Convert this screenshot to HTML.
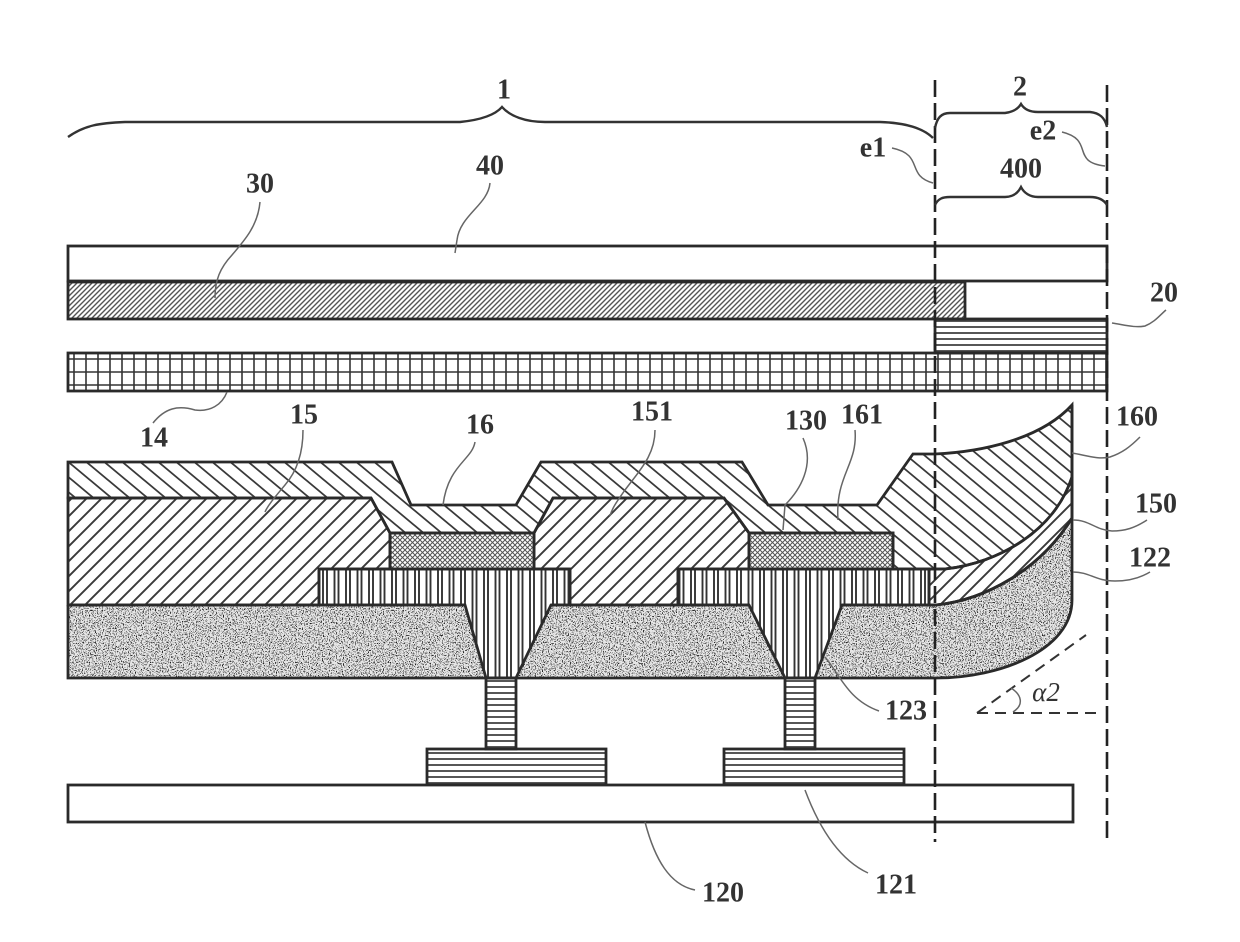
<!DOCTYPE html>
<html><head><meta charset="utf-8"><style>
html,body{margin:0;padding:0;background:#fff}
svg{display:block}
text{font-family:"Liberation Serif",serif;font-weight:bold;font-size:28px;fill:#333;text-anchor:middle;dominant-baseline:middle}
.o{stroke:#2a2a2a;stroke-width:2.8;stroke-linejoin:miter}
.l{fill:none;stroke:#666;stroke-width:1.5}
.b{fill:none;stroke:#333;stroke-width:2.4}
</style></head><body>
<svg xmlns="http://www.w3.org/2000/svg" width="1240" height="942" viewBox="0 0 1240 942">
<defs>
<pattern id="back" width="18" height="15" patternUnits="userSpaceOnUse"><path d="M-6,-5 L24,20 M-24,-5 L6,20 M12,-5 L42,20" stroke="#3a3a3a" stroke-width="1.8" fill="none"/></pattern>
<pattern id="fwd" width="15" height="15" patternUnits="userSpaceOnUse"><path d="M-4,19 L19,-4 M-19,19 L4,-4 M11,19 L34,-4" stroke="#3a3a3a" stroke-width="1.9" fill="none"/></pattern>
<pattern id="fine" width="5" height="5" patternUnits="userSpaceOnUse"><path d="M-1,6 L6,-1 M-3,3 L3,-3 M2,8 L8,2" stroke="#555" stroke-width="1.4" fill="none"/></pattern>
<pattern id="cross" width="5" height="5" patternUnits="userSpaceOnUse"><path d="M-1,6 L6,-1 M-1,-1 L6,6" stroke="#555" stroke-width="1" fill="none"/></pattern>
<pattern id="vert" width="11.5" height="10" patternUnits="userSpaceOnUse" x="319"><path d="M4,0 V10 M8,0 V10" stroke="#333" stroke-width="1.9" fill="none"/></pattern>
<pattern id="horiz" width="10" height="6" patternUnits="userSpaceOnUse"><path d="M0,3 H10" stroke="#444" stroke-width="1.8" fill="none"/></pattern>
<pattern id="grid" width="12" height="13" patternUnits="userSpaceOnUse" x="68" y="353"><path d="M6,0 V13 M0,6 H12" stroke="#333" stroke-width="1.6" fill="none"/></pattern>
<filter id="st" x="0" y="0" width="1" height="1" color-interpolation-filters="sRGB">
<feTurbulence type="fractalNoise" baseFrequency="0.85" numOctaves="2" seed="4" result="n"/>
<feColorMatrix in="n" type="matrix" values="0 0 0 0 0.12  0 0 0 0 0.12  0 0 0 0 0.12  9 0 0 0 -4.9" result="d"/>
<feComposite in="d" in2="SourceAlpha" operator="in"/>
</filter>
</defs>

<!-- top layers -->
<rect x="68" y="246" width="1039" height="35" fill="#fff" class="o"/>
<rect x="68" y="282" width="897" height="37" fill="url(#fine)" class="o"/>
<rect x="935" y="319" width="172" height="34" fill="url(#horiz)" class="o"/>
<rect x="68" y="353" width="1039" height="38" fill="url(#grid)" class="o"/>

<!-- layer 122 stipple -->
<path d="M68,605 H465 L486,678 H68 Z M551,605 H749 L785,678 H516 Z M842,605 H936 C985,600 1040,570 1072,518 V600 C1072,650 1000,678 936,678 H815 Z" fill="#e6e6e6"/>
<path d="M68,605 H465 L486,678 H68 Z M551,605 H749 L785,678 H516 Z M842,605 H936 C985,600 1040,570 1072,518 V600 C1072,650 1000,678 936,678 H815 Z" fill="#000" filter="url(#st)"/>

<!-- layer 15 -->
<path d="M68,498 H371 L390,533 V569 H319 V605 H68 Z M534,533 L553,498 H724 L749,533 V569 H678 V605 H570 V569 H534 Z M929,569 H945 C1000,563 1055,530 1072,477 V518 C1040,570 985,600 936,605 H929 Z" fill="url(#fwd)" class="o"/>
<!-- layer 16 -->
<path d="M68,462 H392 L411,505 H516 L541,462 H742 L768,505 H877 L913,454 H935 C980,452 1040,440 1072,405 V477 C1055,530 1000,563 945,569 H893 V533 H749 L724,498 H553 L534,533 H390 L371,498 H68 Z" fill="url(#back)" class="o"/>
<!-- 130 -->
<rect x="390" y="533" width="144" height="36" fill="url(#cross)" class="o"/>
<rect x="749" y="533" width="144" height="36" fill="url(#cross)" class="o"/>
<!-- source drain & via -->
<path d="M319,569 H570 V605 H551 L516,678 H486 L465,605 H319 Z" fill="url(#vert)" class="o"/>
<path d="M678,569 H929 V605 H842 L815,678 H785 L749,605 H678 Z" fill="url(#vert)" class="o"/>
<!-- layer 122 outline -->
<path class="o" fill="none" d="M68,605 H465 M551,605 H749 M842,605 H936 C985,600 1040,570 1072,518 M1072,405 V600 C1072,650 1000,678 936,678 H68 V605"/>
<!-- pillars & pads -->
<rect x="486" y="678" width="30" height="71" fill="url(#horiz)" class="o"/>
<rect x="785" y="678" width="30" height="71" fill="url(#horiz)" class="o"/>
<rect x="427" y="749" width="179" height="36" fill="url(#horiz)" class="o"/>
<rect x="724" y="749" width="180" height="36" fill="url(#horiz)" class="o"/>
<rect x="68" y="785" width="1005" height="37" fill="#fff" class="o"/>

<!-- dashed verticals -->
<path d="M935,80 V842 M1107,85 V842" fill="none" stroke="#222" stroke-width="2.6" stroke-dasharray="17 6"/>
<!-- alpha -->
<path d="M977,713 L1086,635 M977,713 H1099" fill="none" stroke="#333" stroke-width="2" stroke-dasharray="11 7"/>
<path d="M1011,688 C1022,695 1024,705 1013,712" class="l"/>
<text x="1046" y="695" style="font-style:italic;font-weight:normal;font-size:27px">α2</text>

<!-- braces -->
<path class="b" d="M68,137 C85,125 100,123 125,122 H460 C480,120 495,115 502,107 C510,116 525,122 545,122 H880 C910,123 925,130 933,138"/>
<path class="b" d="M935,128 C937,118 941,113 950,113 H1005 C1013,112 1018,109 1021,104 C1024,109 1030,112 1038,112 H1090 C1100,113 1105,118 1107,127"/>
<path class="b" d="M935,205 C938,199 942,197 950,197 H1005 C1013,197 1018,193 1021,187 C1024,193 1030,197 1038,197 H1090 C1099,197 1104,200 1107,205"/>

<!-- leaders -->
<path class="l" d="M260,202 C258,225 245,240 232,255 C220,268 215,280 215,298"/>
<path class="l" d="M490,183 C488,205 460,215 457,240 L455,253"/>
<path class="l" d="M227,392 C222,405 210,412 195,410 C178,405 165,408 153,423"/>
<path class="l" d="M303,430 C303,450 298,470 285,485 C275,497 268,505 265,512"/>
<path class="l" d="M475,442 C472,460 448,465 443,505"/>
<path class="l" d="M655,430 C655,455 640,470 625,490 C618,500 612,508 610,516"/>
<path class="l" d="M803,438 C815,465 800,490 785,505 L783,530"/>
<path class="l" d="M855,430 C858,465 835,475 838,520"/>
<path class="l" d="M1072,453 C1085,455 1098,460 1110,457 C1122,453 1130,447 1140,437"/>
<path class="l" d="M1073,520 C1090,520 1095,530 1112,531 C1125,531 1135,528 1147,520"/>
<path class="l" d="M1073,572 C1090,572 1095,581 1115,581 C1128,581 1140,578 1150,572"/>
<path class="l" d="M825,657 C840,675 848,700 879,711"/>
<path class="l" d="M1112,323 C1125,325 1135,328 1145,326 C1155,322 1160,315 1166,310"/>
<path class="l" d="M892,148 C925,155 905,175 933,183"/>
<path class="l" d="M1062,132 C1095,140 1070,162 1105,166"/>
<path class="l" d="M645,822 C655,860 670,885 695,890"/>
<path class="l" d="M805,790 C820,830 840,860 868,873"/>

<!-- labels -->
<g transform="translate(0,2)">
<text x="504" y="90">1</text>
<text x="1020" y="87">2</text>
<text x="873" y="148">e1</text>
<text x="1043" y="131">e2</text>
<text x="1021" y="169">400</text>
<text x="1164" y="293">20</text>
<text x="490" y="166">40</text>
<text x="260" y="184">30</text>
<text x="154" y="438">14</text>
<text x="304" y="415">15</text>
<text x="480" y="425">16</text>
<text x="652" y="412">151</text>
<text x="806" y="421">130</text>
<text x="862" y="415">161</text>
<text x="1137" y="417">160</text>
<text x="1156" y="504">150</text>
<text x="1150" y="558">122</text>
<text x="906" y="711">123</text>
<text x="723" y="893">120</text>
<text x="896" y="885">121</text>
</g>
</svg>
</body></html>
